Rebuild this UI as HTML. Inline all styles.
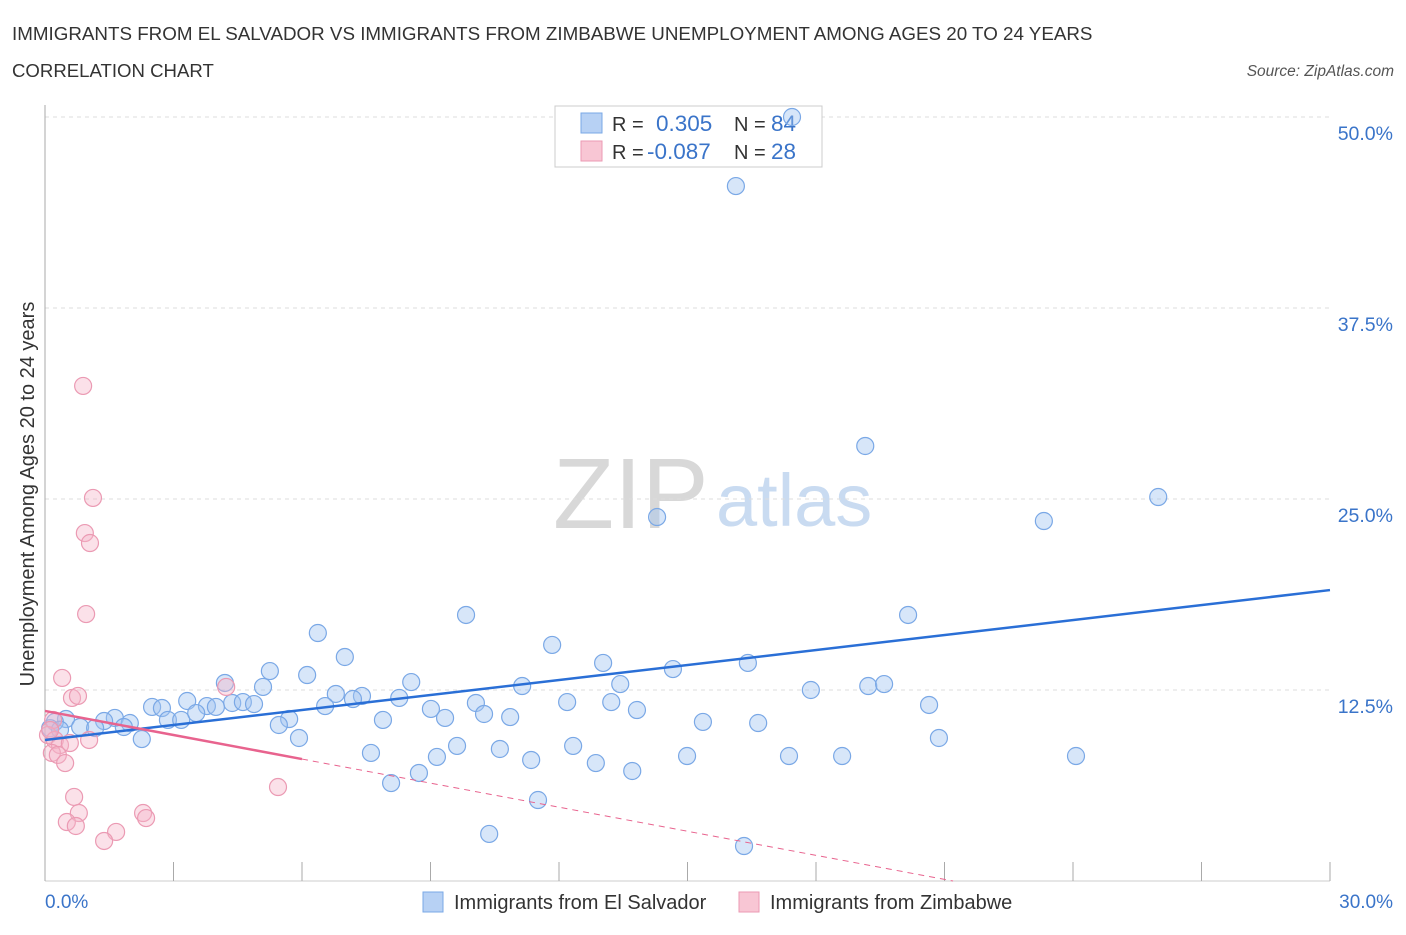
<!DOCTYPE html>
<html><head><meta charset="utf-8"><style>
body{margin:0;background:#fff;font-family:"Liberation Sans",sans-serif;}
svg text{font-family:"Liberation Sans",sans-serif;}
</style></head><body>
<svg id="chart" width="1406" height="930" viewBox="0 0 1406 930" xmlns="http://www.w3.org/2000/svg">
<text x="12" y="40" font-size="18.8" fill="#333">IMMIGRANTS FROM EL SALVADOR VS IMMIGRANTS FROM ZIMBABWE UNEMPLOYMENT AMONG AGES 20 TO 24 YEARS</text>
<text x="12" y="77" font-size="18.6" fill="#333">CORRELATION CHART</text>
<text x="1394" y="76" font-size="15.5" fill="#555" font-style="italic" text-anchor="end">Source: ZipAtlas.com</text>
<g>
<text x="553" y="528" font-size="100" font-family="Liberation Serif,serif" fill="#d8d8d8">ZIP</text>
<text x="716" y="526" font-size="74" fill="#c9dbf1">atlas</text>
</g>
<g id="grid"></g>
<line x1="45" y1="105" x2="45" y2="881" stroke="#aaa"/>
<line x1="45" y1="881" x2="1330" y2="881" stroke="#ccc"/>
<g id="xticks"></g>
<text x="45" y="908" font-size="19" fill="#3a74c9">0.0%</text>
<text x="1393" y="908" font-size="19" fill="#3a74c9" text-anchor="end">30.0%</text>
<text transform="translate(34,494) rotate(-90)" font-size="20" fill="#333" text-anchor="middle">Unemployment Among Ages 20 to 24 years</text>
<g>
<rect x="555" y="106" width="267" height="61" fill="#fff" stroke="#ccc"/>
<rect x="581" y="113" width="21" height="20" fill="#b7d1f4" stroke="#7aa8e6"/>
<rect x="581" y="141" width="21" height="20" fill="#f8c6d4" stroke="#eb9ab3"/>
<text x="612" y="131" font-size="20" fill="#333">R =</text>
<text x="656" y="131" font-size="22.5" fill="#3a74c9">0.305</text>
<text x="734" y="131" font-size="20" fill="#333">N =</text>
<text x="771" y="131" font-size="22.5" fill="#3a74c9">84</text>
<text x="612" y="159" font-size="20" fill="#333">R =</text>
<text x="647" y="159" font-size="22.5" fill="#3a74c9">-0.087</text>
<text x="734" y="159" font-size="20" fill="#333">N =</text>
<text x="771" y="159" font-size="22.5" fill="#3a74c9">28</text>
</g>
<g id="pts"></g>
<g id="lines"></g>
<g>
<rect x="423" y="892" width="20" height="20" fill="#b7d1f4" stroke="#7aa8e6"/>
<text x="454" y="909" font-size="20" fill="#333">Immigrants from El Salvador</text>
<rect x="739" y="892" width="20" height="20" fill="#f8c6d4" stroke="#eb9ab3"/>
<text x="770" y="909" font-size="20" fill="#333">Immigrants from Zimbabwe</text>
</g>
</svg>
<script>
const yTicks=[12.5,25,37.5,50];
const yTickLabels=["12.5%","25.0%","37.5%","50.0%"];
const xTicks=[0,3,6,9,12,15,18,21,24,27,30];
const blueX=[17.44,16.13,19.15,25.99,23.32,14.29,20.15,9.83,6.37,11.84,7.00,13.03,14.66,16.41,5.25,6.12,8.55,4.20,5.09,11.14,13.43,17.88,19.22,19.59,6.79,7.40,7.19,3.32,8.27,12.19,13.22,10.06,2.50,2.73,3.78,4.37,4.62,4.88,3.99,20.64,6.54,9.01,13.82,10.25,10.86,9.34,5.70,7.89,1.63,0.49,0.23,1.38,1.98,2.87,3.18,3.53,5.46,15.36,16.65,0.82,1.17,1.84,2.26,5.93,9.62,12.33,20.87,10.62,7.61,9.15,14.99,17.37,18.61,24.07,11.35,12.86,13.71,8.73,8.08,11.51,10.37,16.32,0.12,0.35];
const blueY=[50.0,45.48,28.47,25.13,23.56,23.82,17.41,17.41,16.23,15.45,14.66,14.27,13.87,14.27,13.74,13.48,13.02,12.96,12.70,12.76,12.89,12.50,12.76,12.89,12.24,12.11,11.91,11.78,11.98,11.71,11.71,11.65,11.39,11.32,11.45,11.65,11.71,11.58,11.39,11.52,11.45,11.26,11.19,10.93,10.73,10.67,10.60,10.54,10.67,10.60,10.41,10.47,10.34,10.54,10.54,10.99,10.21,10.41,10.34,10.08,10.01,10.08,9.29,9.36,8.84,8.84,9.36,8.64,8.38,8.12,8.18,8.18,8.18,8.18,7.92,7.72,7.20,7.07,6.41,5.30,3.08,2.29,10.0,9.9];
const pinkX=[0.89,1.12,0.93,1.05,0.96,0.40,0.63,0.77,4.23,0.19,0.07,0.23,0.35,0.58,1.03,0.16,0.30,0.47,5.44,0.68,0.79,0.51,0.72,2.29,2.36,1.66,1.38,0.12];
const pinkY=[32.4,25.07,22.77,22.12,17.47,13.29,11.98,12.11,12.70,10.54,9.55,9.23,8.90,9.03,9.23,8.38,8.25,7.72,6.15,5.50,4.45,3.86,3.60,4.45,4.12,3.21,2.62,9.88];
const blueTrend=[9.23,19.04]; // values at x=0 and x=30
const pinkTrend=[11.13,-0.525]; // intercept, slope
const pinkSolidEnd=6;

const NS="http://www.w3.org/2000/svg";
const X=v=>45+v*42.833;
const Y=v=>881-v*15.28;
function mk(tag,attrs,parent){const e=document.createElementNS(NS,tag);for(const k in attrs)e.setAttribute(k,attrs[k]);parent.appendChild(e);return e;}
const grid=document.getElementById('grid');
yTicks.forEach((t,i)=>{
  const l=mk('line',{x1:45,x2:1330,y1:Y(t),y2:Y(t),stroke:'#ddd','stroke-dasharray':'4,4'},grid);
  
  
  const tx=mk('text',{x:1393,y:Y(t)+23,'font-size':19.5,fill:'#3a74c9','text-anchor':'end'},grid);
  tx.textContent=yTickLabels[i];
  
  
});
const xt=document.getElementById('xticks');
xTicks.forEach(t=>{
  const l=mk('line',{x1:X(t),x2:X(t),y1:862,y2:881,stroke:'#aaa'},xt);
  
  
});
const pts=document.getElementById('pts');
blueX.forEach((v,i)=>{
  const c=mk('circle',{cx:X(v),cy:Y(blueY[i]),r:8.5,fill:'rgba(160,196,240,0.42)',stroke:'#7aa8e6','stroke-width':1.2},pts);
  
  
});
pinkX.forEach((v,i)=>{
  const c=mk('circle',{cx:X(v),cy:Y(pinkY[i]),r:8.5,fill:'rgba(245,180,200,0.4)',stroke:'#eb9ab3','stroke-width':1.2},pts);
  
  
});
const ln=document.getElementById('lines');
const bl=mk('line',{x1:X(0),y1:Y(blueTrend[0]),x2:X(30),y2:Y(blueTrend[1]),stroke:'#2a6fd6','stroke-width':2.5},ln);


const pf=x=>pinkTrend[0]+pinkTrend[1]*x;
const pl=mk('line',{x1:X(0),y1:Y(pf(0)),x2:X(pinkSolidEnd),y2:Y(pf(pinkSolidEnd)),stroke:'#e8638e','stroke-width':2.5},ln);


const x0=-pinkTrend[0]/pinkTrend[1];
const pd=mk('line',{x1:X(pinkSolidEnd),y1:Y(pf(pinkSolidEnd)),x2:X(x0),y2:Y(0),stroke:'#e8638e','stroke-width':1,'stroke-dasharray':'6,5'},ln);


</script>
</body></html>
